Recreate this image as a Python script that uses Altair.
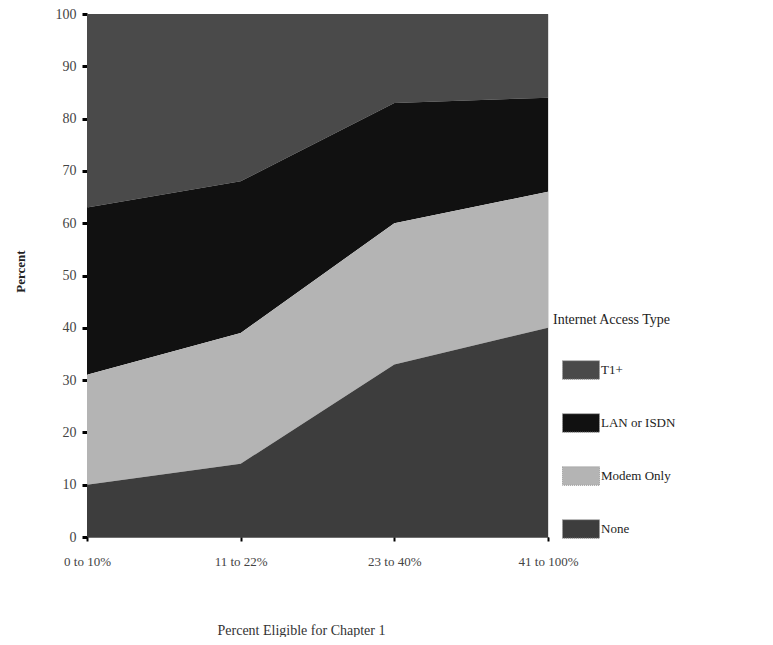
import altair as alt
import pandas as pd

categories = ["0 to 10%", "11 to 22%", "23 to 40%", "41 to 100%"]
series = ["T1+", "LAN or ISDN", "Modem Only", "None"]
colors = ["#4a4a4a", "#111111", "#b4b4b4", "#3d3d3d"]
stack_order = [3, 2, 1, 0]
values = {
    "None": [10, 14, 33, 40],
    "Modem Only": [21, 25, 27, 26],
    "LAN or ISDN": [32, 29, 23, 18],
    "T1+": [37, 32, 17, 16],
}

rows = []
for s, o in zip(series, stack_order):
    for c, v in zip(categories, values[s]):
        rows.append({"group": c, "type": s, "value": v, "ord": o})
df = pd.DataFrame(rows)

FONT = "Liberation Serif"

chart = alt.Chart(df).mark_area(interpolate="linear").encode(
    x=alt.X("group:N", sort=categories,
            scale=alt.Scale(type="point", padding=0),
            axis=alt.Axis(title="Percent Eligible for Chapter 1", labelAngle=0,
                          labelFont=FONT, labelFontSize=13, labelColor="#444",
                          titleFont=FONT, titleFontSize=14, titleFontWeight="normal",
                          titleColor="#333", titleX=214, titleY=93, titleBaseline="middle",
                          tickColor="#000", tickSize=4, tickWidth=2, labelPadding=14,
                          domainColor="#000", domainDash=[1, 1], grid=False)),
    y=alt.Y("value:Q", stack="zero",
            scale=alt.Scale(domain=[0, 100], nice=False),
            axis=alt.Axis(title="Percent", values=list(range(0, 101, 10)),
                          labelFont=FONT, labelFontSize=14, labelColor="#444",
                          titleFont=FONT, titleFontSize=13, titleFontWeight="bold",
                          titleColor="#222", titleX=-67, titleY=257, titleAngle=-90,
                          titleBaseline="middle",
                          tickColor="#000", tickSize=5, tickWidth=3, labelPadding=6,
                          domainColor="#000", domainDash=[1, 1], grid=False)),
    color=alt.Color("type:N",
                    scale=alt.Scale(domain=series, range=colors),
                    legend=alt.Legend(title="Internet Access Type", orient="none",
                                      legendX=466, legendY=299,
                                      titleFont=FONT, titleFontSize=14,
                                      titleFontWeight="normal", titleColor="#222",
                                      titlePadding=24,
                                      labelFont=FONT, labelFontSize=13, labelColor="#222",
                                      labelOffset=1, symbolOffset=9,
                                      symbolType="M-1,-0.5H1V0.5H-1Z", symbolSize=1369,
                                      symbolOpacity=1,
                                      symbolStrokeColor="#999", symbolStrokeWidth=1,
                                      symbolDash=[1, 1], rowPadding=22)),
    order=alt.Order("ord:Q", sort="ascending"),
).properties(
    width=461, height=523,
    autosize=alt.AutoSizeParams(type="none"),
    padding={"left": 79, "top": 6, "right": 200, "bottom": 100},
).configure_view(
    stroke="#000", strokeWidth=1,
).configure(background="white")

chart.save("out.html", embed_options={"renderer": "svg", "actions": False})
